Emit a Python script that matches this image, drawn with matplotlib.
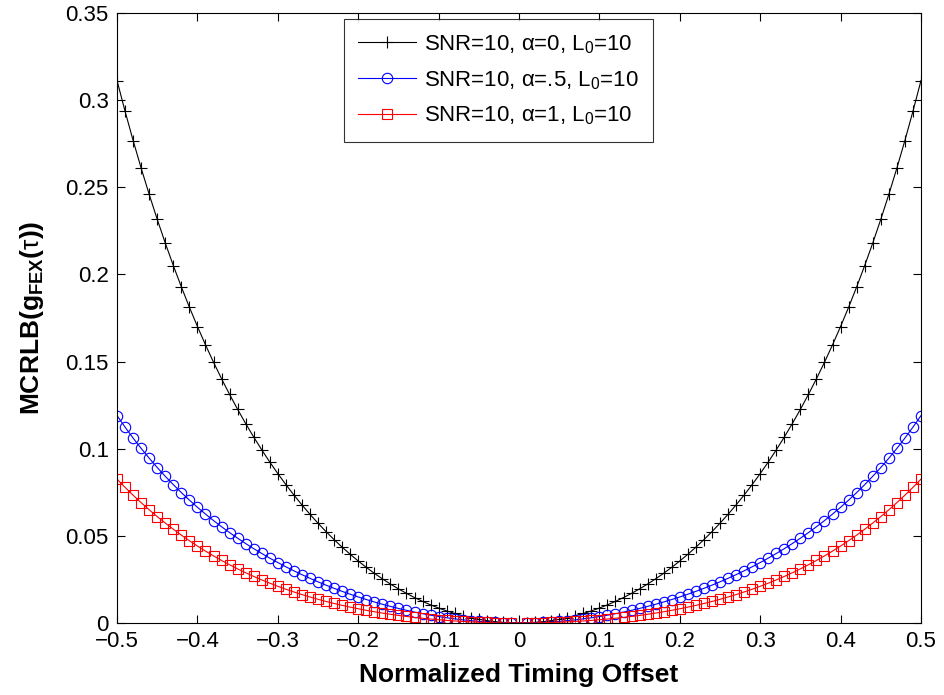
import matplotlib
matplotlib.use('Agg')
import matplotlib.pyplot as plt
import numpy as np

plt.rcParams['font.family'] = ['Liberation Sans', 'DejaVu Sans']
plt.rcParams['mathtext.fontset'] = 'custom'
plt.rcParams['mathtext.rm'] = 'Liberation Sans'
plt.rcParams['mathtext.it'] = 'Liberation Sans:italic'
plt.rcParams['mathtext.bf'] = 'Liberation Sans:bold'

# Data: offsets 0.01..0.50 (curves are symmetric about 0, no point at 0)
offsets = [0.01, 0.02, 0.03, 0.04, 0.05, 0.06, 0.07, 0.08, 0.09, 0.10,
           0.11, 0.12, 0.13, 0.14, 0.15, 0.16, 0.17, 0.18, 0.19, 0.20,
           0.21, 0.22, 0.23, 0.24, 0.25, 0.26, 0.27, 0.28, 0.29, 0.30,
           0.31, 0.32, 0.33, 0.34, 0.35, 0.36, 0.37, 0.38, 0.39, 0.40,
           0.41, 0.42, 0.43, 0.44, 0.45, 0.46, 0.47, 0.48, 0.49, 0.50]

alpha0 = [0.00008, 0.00034, 0.00076, 0.00136, 0.00213, 0.00307, 0.00418, 0.00547, 0.00693, 0.00858,
          0.01040, 0.01242, 0.01461, 0.01700, 0.01958, 0.02236, 0.02535, 0.02854, 0.03194, 0.03557,
          0.03942, 0.04351, 0.04783, 0.05241, 0.05725, 0.06235, 0.06774, 0.07342, 0.07940, 0.08570,
          0.09234, 0.09933, 0.10668, 0.11442, 0.12256, 0.13113, 0.14014, 0.14963, 0.15961, 0.17012,
          0.18117, 0.19281, 0.20507, 0.21797, 0.23156, 0.24587, 0.26094, 0.27682, 0.29356, 0.31119]

alpha05 = [0.00004, 0.00015, 0.00033, 0.00059, 0.00093, 0.00133, 0.00181, 0.00237, 0.00300, 0.00370,
           0.00448, 0.00534, 0.00627, 0.00727, 0.00836, 0.00952, 0.01075, 0.01207, 0.01347, 0.01494,
           0.01651, 0.01815, 0.01988, 0.02170, 0.02362, 0.02563, 0.02773, 0.02994, 0.03225, 0.03468,
           0.03721, 0.03988, 0.04266, 0.04558, 0.04865, 0.05186, 0.05523, 0.05877, 0.06249, 0.06639,
           0.07050, 0.07482, 0.07937, 0.08416, 0.08921, 0.09454, 0.10016, 0.10609, 0.11236, 0.11898]

alpha1 = [0.00002, 0.00007, 0.00016, 0.00029, 0.00045, 0.00066, 0.00090, 0.00118, 0.00150, 0.00186,
          0.00227, 0.00272, 0.00321, 0.00376, 0.00435, 0.00500, 0.00570, 0.00646, 0.00728, 0.00816,
          0.00911, 0.01012, 0.01120, 0.01236, 0.01359, 0.01491, 0.01631, 0.01780, 0.01938, 0.02106,
          0.02284, 0.02472, 0.02672, 0.02883, 0.03105, 0.03341, 0.03589, 0.03850, 0.04126, 0.04416,
          0.04721, 0.05042, 0.05379, 0.05734, 0.06105, 0.06495, 0.06904, 0.07332, 0.07781, 0.08250]

labels = ['SNR=10, \u03b1=0, L$_0$=10',
          'SNR=10, \u03b1=.5, L$_0$=10',
          'SNR=10, \u03b1=1, L$_0$=10']

# mirror to negative offsets
x = [-v for v in offsets[::-1]] + offsets
y0 = alpha0[::-1] + alpha0
y05 = alpha05[::-1] + alpha05
y1 = alpha1[::-1] + alpha1

fig = plt.figure(figsize=(9.44, 6.95), dpi=100)
ax = fig.add_axes([0.124, 0.1036, 0.8516, 0.8777])

ax.plot(x, y0, color='k', marker='+', markersize=8, linewidth=0.8,
        markeredgewidth=0.8, label=labels[0])
ax.plot(x, y05, color='b', marker='o', markersize=7.5, linewidth=0.8,
        markeredgewidth=0.8, markerfacecolor='none', label=labels[1])
ax.plot(x, y1, color='r', marker='s', markersize=6.5, linewidth=0.8,
        markeredgewidth=0.8, markerfacecolor='none', label=labels[2])

ax.set_xlim(-0.5, 0.5)
ax.set_ylim(0, 0.35)
ax.set_xticks(np.arange(-0.5, 0.51, 0.1))
ax.set_yticks(np.arange(0, 0.351, 0.05))
ax.set_xticklabels(['\u22120.5', '\u22120.4', '\u22120.3', '\u22120.2', '\u22120.1',
                    '0', '0.1', '0.2', '0.3', '0.4', '0.5'])
ax.set_yticklabels(['0', '0.05', '0.1', '0.15', '0.2', '0.25', '0.3', '0.35'])
ax.tick_params(direction='in', top=True, right=True, labelsize=16, length=6,
               width=0.8, pad=6)
for s in ax.spines.values():
    s.set_linewidth(0.8)

ax.set_xlabel('Normalized Timing Offset', fontsize=19, fontweight='bold', labelpad=8)
ax.set_ylabel(r'MCRLB(g$_{\mathbf{FEX}}$($\mathrm{\tau}$))', fontsize=19,
              fontweight='bold', labelpad=14)

leg = ax.legend(loc='upper center', bbox_to_anchor=(0.474, 1.0), fontsize=16,
                fancybox=False, edgecolor='k', handlelength=2.6,
                borderpad=0.65, labelspacing=0.6, handletextpad=0.35,
                borderaxespad=0.25)
leg.get_frame().set_linewidth(0.8)

plt.savefig('out.png', dpi=100)
